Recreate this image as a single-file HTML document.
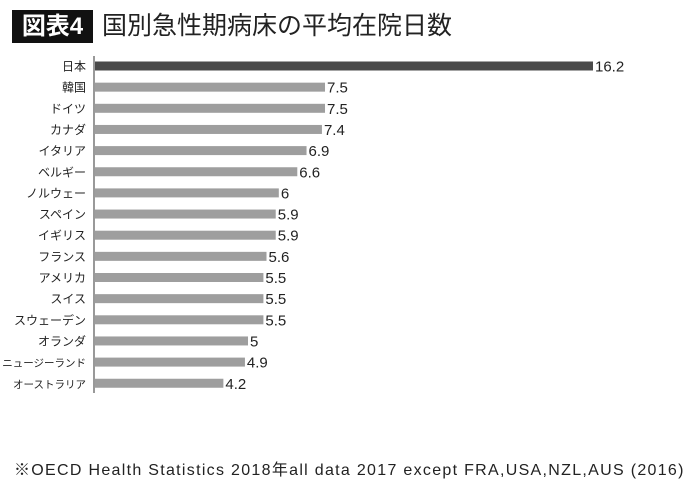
<!DOCTYPE html>
<html><head><meta charset="utf-8">
<style>
body{margin:0;background:#fff;width:700px;height:483px;overflow:hidden;font-family:"Liberation Sans","Noto Sans CJK JP",sans-serif;}
#wrap{position:relative;width:700px;height:483px;}
#badge{position:absolute;left:12px;top:10px;width:81px;height:33px;background:#111;color:#fff;font-size:24px;font-weight:bold;line-height:33px;text-align:center;}
#title{position:absolute;left:102px;top:9px;font-size:25px;color:#222;line-height:34px;}
#note{position:absolute;left:14px;top:456px;font-size:16px;letter-spacing:1.3px;color:#222;white-space:nowrap;}
svg{position:absolute;left:0;top:0;}
</style></head>
<body><div id="wrap">
<div id="badge">図表4</div>
<div id="title">国別急性期病床の平均在院日数</div>
<svg id="chart" width="700" height="483"></svg>
<div id="note">※OECD Health Statistics 2018年all data 2017 except FRA,USA,NZL,AUS (2016)</div>
</div>
<script>
const categories=["日本","韓国","ドイツ","カナダ","イタリア","ベルギー","ノルウェー","スペイン","イギリス","フランス","アメリカ","スイス","スウェーデン","オランダ","ニュージーランド","オーストラリア"];
const values=[16.2,7.5,7.5,7.4,6.9,6.6,6,5.9,5.9,5.6,5.5,5.5,5.5,5,4.9,4.2];
const valueLabels=["16.2","7.5","7.5","7.4","6.9","6.6","6","5.9","5.9","5.6","5.5","5.5","5.5","5","4.9","4.2"];
const svg=document.getElementById('chart');
const NS='http://www.w3.org/2000/svg';
const x0=94, pxPerUnit=(593-94)/16.2;
const xs=v=>x0+v*pxPerUnit;
const y0=66, step=21.15;
const ys=i=>y0+i*step;
const axis=document.createElementNS(NS,'line');
axis.setAttribute('x1',x0);axis.setAttribute('x2',x0);axis.setAttribute('y1',56);axis.setAttribute('y2',393);
axis.setAttribute('stroke','#333');axis.setAttribute('stroke-width','1');


svg.appendChild(axis);
categories.forEach((c,i)=>{
  const cy=ys(i);
  const r=document.createElementNS(NS,'rect');
  r.setAttribute('x',x0+1);r.setAttribute('y',cy-4.5);r.setAttribute('height',9);
  r.setAttribute('width',xs(values[i])-x0-1);
  r.setAttribute('fill',i===0?'#4a4a4a':'#9e9e9e');
  
  
  svg.appendChild(r);
  const t=document.createElementNS(NS,'text');
  t.setAttribute('x',86);t.setAttribute('y',cy+4.5);t.setAttribute('text-anchor','end');
  t.setAttribute('font-size',c.length>6?'10.5':'12');t.setAttribute('fill','#222');
  t.textContent=c;
  
  
  svg.appendChild(t);
  const v=document.createElementNS(NS,'text');
  v.setAttribute('x',xs(values[i])+2);v.setAttribute('y',cy+5.5);
  v.setAttribute('font-size','15');v.setAttribute('fill','#222');
  v.textContent=valueLabels[i];
  
  
  svg.appendChild(v);
});
</script>
</body></html>
